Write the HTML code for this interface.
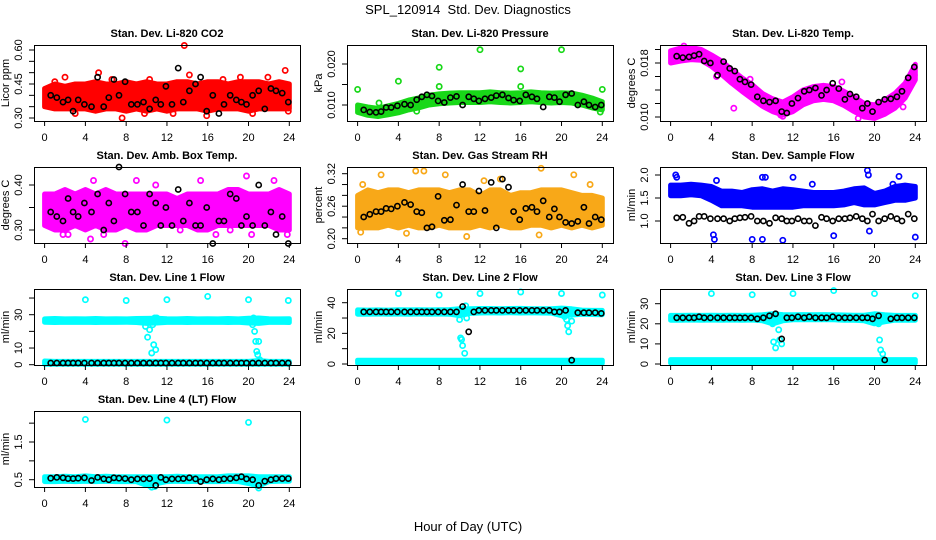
<!DOCTYPE html>
<html><head><meta charset="utf-8"><style>
html,body{margin:0;padding:0;background:#fff;}
svg{display:block;font-family:"Liberation Sans",sans-serif;}
</style></head><body>
<svg id="chart" width="936" height="540" viewBox="0 0 936 540" xmlns="http://www.w3.org/2000/svg">
<text x="468" y="14" text-anchor="middle" font-size="13">SPL_120914&#160; Std. Dev. Diagnostics</text>
<text x="468" y="531" text-anchor="middle" font-size="13">Hour of Day (UTC)</text>
</svg>
<script>
const bandHours=[0,1,2,3,4,5,6,7,8,9,10,11,12,13,14,15,16,17,18,19,20,21,22,23,24];
const blackHours=[0.6,1.2,1.8,2.3,2.8,3.3,3.9,4.6,5.2,5.8,6.3,6.8,7.3,7.9,8.5,9.1,9.7,10.3,10.9,11.4,11.9,12.5,13.1,13.6,14.2,14.8,15.3,15.9,16.5,17.1,17.6,18.2,18.8,19.3,19.8,20.4,21.0,21.6,22.2,22.7,23.3,23.9];

const co2Lo=[0.35,0.34,0.34,0.34,0.34,0.33,0.34,0.34,0.33,0.34,0.33,0.34,0.33,0.34,0.34,0.34,0.33,0.34,0.34,0.34,0.33,0.34,0.34,0.34,0.34];
const co2Hi=[0.43,0.45,0.44,0.45,0.45,0.46,0.45,0.45,0.46,0.45,0.46,0.45,0.45,0.46,0.46,0.45,0.46,0.46,0.45,0.46,0.46,0.46,0.45,0.46,0.45];
const co2OutX=[2.0,5.3,13.7,23.6,14.2,19.2,7.6,15.9,3.0,20.4,10.3,17.5,23.9,1.0,9.8,12.6,21.9,6.6];
const co2OutY=[0.48,0.50,0.62,0.51,0.49,0.48,0.30,0.31,0.32,0.32,0.47,0.47,0.33,0.46,0.32,0.32,0.48,0.47];
const co2Black=[0.40,0.39,0.37,0.38,0.33,0.38,0.36,0.35,0.48,0.35,0.39,0.47,0.40,0.46,0.36,0.36,0.37,0.34,0.38,0.36,0.44,0.36,0.52,0.37,0.42,0.45,0.48,0.33,0.40,0.32,0.36,0.40,0.38,0.37,0.36,0.40,0.42,0.34,0.43,0.42,0.41,0.37];

const presLo=[0.0082,0.0075,0.0072,0.0076,0.0081,0.0088,0.0093,0.0100,0.0103,0.0105,0.0106,0.0106,0.0106,0.0108,0.0106,0.0105,0.0106,0.0108,0.0106,0.0105,0.0106,0.0105,0.0100,0.0093,0.0088];
const presHi=[0.0100,0.0095,0.0092,0.0098,0.0104,0.0112,0.0117,0.0124,0.0127,0.0129,0.0130,0.0130,0.0130,0.0132,0.0130,0.0129,0.0130,0.0132,0.0130,0.0129,0.0130,0.0129,0.0124,0.0117,0.0108];
const presOutX=[0,4,8,8,12,16,16,20,24,2.1,5.8,23.8];
const presOutY=[0.0138,0.0158,0.0192,0.0145,0.0235,0.0188,0.0145,0.0235,0.0138,0.0105,0.0085,0.0083];
const presBlack=[0.0088,0.0083,0.0082,0.0084,0.0094,0.0094,0.0098,0.0102,0.0100,0.0113,0.0120,0.0125,0.0122,0.0110,0.0106,0.0118,0.0121,0.0100,0.0120,0.0115,0.0110,0.0115,0.0118,0.0123,0.0125,0.0117,0.0112,0.0110,0.0125,0.0120,0.0115,0.0095,0.0120,0.0118,0.0108,0.0125,0.0128,0.0100,0.0108,0.0100,0.0095,0.0100];

const tempLo=[0.0180,0.0183,0.0185,0.0184,0.0175,0.0163,0.0150,0.0138,0.0127,0.0116,0.0108,0.0103,0.0108,0.0118,0.0124,0.0126,0.0124,0.0117,0.0108,0.0100,0.0098,0.0104,0.0113,0.0128,0.0155];
const tempHi=[0.0198,0.0202,0.0203,0.0200,0.0192,0.0183,0.0170,0.0158,0.0148,0.0135,0.0127,0.0122,0.0130,0.0140,0.0145,0.0147,0.0145,0.0138,0.0130,0.0120,0.0118,0.0125,0.0135,0.0150,0.0178];
const tempOutX=[1.3,7.8,6.2,11.0,18.4,16.8,22.8,23.9,4.5,10.8];
const tempOutY=[0.0205,0.0156,0.0113,0.0101,0.0098,0.0152,0.0115,0.0162,0.0160,0.0103];
const tempBlack=[0.0190,0.0188,0.0189,0.0191,0.0193,0.0183,0.0180,0.0162,0.0182,0.0172,0.0168,0.0156,0.0152,0.0148,0.0130,0.0124,0.0122,0.0124,0.0108,0.0106,0.0120,0.0128,0.0138,0.0140,0.0143,0.0132,0.0140,0.0150,0.0142,0.0126,0.0134,0.0130,0.0113,0.0120,0.0108,0.0122,0.0126,0.0127,0.0130,0.0138,0.0158,0.0174];

const ambLo=[0.31,0.30,0.30,0.31,0.30,0.31,0.30,0.30,0.31,0.30,0.30,0.31,0.31,0.31,0.31,0.30,0.30,0.31,0.31,0.31,0.31,0.31,0.31,0.30,0.30];
const ambHi=[0.38,0.38,0.39,0.38,0.39,0.38,0.39,0.38,0.38,0.38,0.38,0.38,0.38,0.37,0.38,0.38,0.38,0.38,0.39,0.39,0.38,0.38,0.38,0.39,0.38];
const ambOutX=[4.5,7.9,4.8,9.0,15.3,19.8,22.5,23.8,1.8,5.8,13.3,10.9,16.8,18.2,2.3,20.3];
const ambOutY=[0.28,0.27,0.41,0.41,0.41,0.42,0.41,0.29,0.29,0.29,0.30,0.40,0.29,0.30,0.29,0.29];
const ambBlack=[0.34,0.33,0.32,0.37,0.34,0.33,0.36,0.34,0.38,0.30,0.36,0.32,0.44,0.38,0.34,0.34,0.31,0.38,0.36,0.31,0.35,0.31,0.39,0.32,0.36,0.31,0.31,0.35,0.27,0.32,0.32,0.38,0.37,0.31,0.33,0.31,0.40,0.31,0.34,0.29,0.33,0.27];

const rhLo=[0.22,0.22,0.22,0.225,0.22,0.225,0.22,0.22,0.225,0.22,0.22,0.22,0.225,0.22,0.225,0.22,0.22,0.225,0.225,0.22,0.225,0.22,0.225,0.22,0.225];
const rhHi=[0.28,0.29,0.285,0.29,0.29,0.285,0.29,0.29,0.29,0.285,0.29,0.29,0.28,0.29,0.29,0.28,0.285,0.285,0.29,0.29,0.29,0.285,0.28,0.28,0.275];
const rhOutX=[0.3,2.3,5.7,6.5,8.6,18.0,21.2,0.5,10.7,12.4,17.8,4.8,22.8,14.0];
const rhOutY=[0.212,0.318,0.325,0.325,0.318,0.330,0.318,0.30,0.204,0.307,0.207,0.21,0.30,0.31];
const rhBlack=[0.24,0.245,0.25,0.25,0.256,0.255,0.26,0.267,0.263,0.25,0.248,0.22,0.222,0.278,0.234,0.235,0.262,0.30,0.25,0.25,0.288,0.252,0.304,0.22,0.31,0.295,0.25,0.235,0.256,0.258,0.25,0.27,0.24,0.255,0.24,0.23,0.228,0.232,0.258,0.228,0.24,0.235];

const sfLo=[1.55,1.55,1.57,1.55,1.45,1.33,1.33,1.33,1.30,1.30,1.30,1.30,1.30,1.33,1.33,1.33,1.33,1.35,1.40,1.35,1.35,1.40,1.45,1.45,1.50];
const sfHi=[1.78,1.78,1.80,1.78,1.75,1.65,1.65,1.62,1.68,1.70,1.65,1.70,1.68,1.65,1.62,1.62,1.62,1.65,1.70,1.72,1.60,1.65,1.75,1.78,1.75];
const sfOutX=[4.2,4.3,8,9,11,16,19.5,24,0.5,0.6,19.3,19.4,9,9.3,12,22.4,13.9,4.5,21.8];
const sfOutY=[0.7,0.6,0.6,0.6,0.58,0.68,0.78,0.65,2.0,1.95,2.1,2.0,1.95,1.95,1.95,1.97,1.8,1.88,1.8];
const sfBlack=[1.07,1.08,0.95,1.0,1.1,1.1,1.05,1.05,1.05,1.0,1.05,1.07,1.08,1.1,1.0,1.0,0.95,1.07,1.05,1.0,1.0,1.05,1.0,1.0,0.9,1.08,1.05,1.0,1.05,1.05,1.07,1.1,1.05,1.0,1.15,1.0,1.05,1.1,1.05,1.0,1.15,1.05];

const l1UpLo=[25.5,25.3,25.5,25.4,25.5,25.3,25.5,25.4,25.5,25.3,24.8,25.0,25.4,25.5,25.3,25.5,25.4,25.5,25.3,25.5,25.0,24.8,25.4,25.5,25.3];
const l1UpHi=[27.5,27.7,27.5,27.6,27.5,27.7,27.5,27.6,27.5,27.7,27.8,27.9,27.6,27.5,27.7,27.5,27.6,27.5,27.7,27.5,27.9,28.0,27.6,27.5,27.6];
const l1LoLo=[0.3,0.3,0.3,0.3,0.3,0.3,0.3,0.3,0.3,0.3,0.3,0.3,0.3,0.3,0.3,0.3,0.3,0.3,0.3,0.3,0.3,0.3,0.3,0.3,0.3];
const l1LoHi=[2.2,2.0,2.0,2.0,2.0,2.0,2.0,2.0,2.0,2.0,2.0,2.0,2.0,2.0,2.0,2.0,2.0,2.0,2.0,2.0,2.0,2.5,2.0,2.0,2.0];
const l1OutX=[4,8,12,16,20,23.9,9.9,10.1,10.3,10.5,10.6,10.7,10.8,10.9,11.0,20.4,20.5,20.6,20.7,20.8,20.9,21.0,21.1];
const l1OutY=[39,38.5,39,41,39,38.5,23,16.5,21,7,24,12,28,9,28,24,28,20,14,8,6,14,3];
const l1Black=[1,1,1,1,1,1,1,1,1,1,1,1,1,1,1,1,1,1,1,1,1,1,1,1,1,1,1,1,1,1,1,1,1,1,1,1,1,1,1,1,1,1];

const l2UpLo=[32.5,32.5,32.6,32.5,32.6,32.5,32.6,32.5,32.6,32.5,31.5,33.0,33.3,33.5,33.3,33.5,33.3,33.4,33.3,33.2,31.5,32.0,32.5,32.3,32.2];
const l2UpHi=[35.3,35.2,35.3,35.2,35.4,35.3,35.4,35.3,35.4,35.5,36.0,36.0,36.2,36.2,36.1,36.2,36.3,36.1,36.0,36.0,36.5,36.0,35.2,35.0,35.0];
const l2LoLo=[0.5,0.5,0.5,0.5,0.5,0.5,0.5,0.5,0.5,0.5,0.5,0.5,0.5,0.5,0.5,0.5,0.5,0.5,0.5,0.5,0.5,0.5,0.5,0.5,0.5];
const l2LoHi=[2.5,2.5,2.5,2.5,2.5,2.5,2.5,2.5,2.5,2.5,2.5,2.5,2.5,2.5,2.5,2.5,2.5,2.5,2.5,2.5,2.5,2.5,2.5,2.5,2.5];
const l2OutX=[4,8,12,16,20,24,10.0,10.1,10.2,10.3,10.5,10.6,10.7,20.3,20.5,20.6,20.7,20.9,21.0];
const l2OutY=[46,45,46,47,46,45,29,17,16,12,7,38,30,31,29,25,21,35,28];
const l2Black=[34,34,34,34,34,34,34,34,34,34,34,34,34,34,34,34,34,37.5,21,34,35,35,35,35,35,35,35,35,35,35,35,35,35,34,34,35,2.5,33.5,33.5,33.5,33.5,33];

const l3UpLo=[21.8,21.8,21.9,21.8,21.9,21.8,21.9,21.8,21.9,21.5,20.0,21.5,22.0,22.0,22.0,22.0,22.0,21.8,21.8,21.5,20.0,21.0,21.8,21.8,21.8];
const l3UpHi=[24.2,24.2,24.3,24.2,24.3,24.2,24.3,24.2,24.3,24.5,25.0,24.6,24.5,24.6,24.5,24.6,24.5,24.4,24.3,24.3,25.0,24.5,24.2,24.2,24.2];
const l3LoLo=[0.5,0.5,0.5,0.5,0.5,0.5,0.5,0.5,0.5,0.5,0.5,0.5,0.5,0.5,0.5,0.5,0.5,0.5,0.5,0.5,0.5,0.5,0.5,0.5,0.5];
const l3LoHi=[2.2,2.2,2.2,2.2,2.2,2.2,2.2,2.2,2.2,2.2,2.2,2.2,2.2,2.2,2.2,2.2,2.2,2.2,2.2,2.2,2.2,2.2,2.2,2.2,2.2];
const l3OutX=[4,8,12,16,20,24,10.0,10.1,10.3,10.6,10.7,10.9,20.4,20.5,20.6,20.8];
const l3OutY=[35,34.5,35,36.5,35,34,20,11,8,17,12,10,20,12,7,5];
const l3Black=[23,23,23,23,23.5,23,23,23,23,23,23,23,23,23,22.5,23,24,25,12.5,23,23,23.5,23,23.5,23,23,23,23.5,23,23,23,23,23,23,22.5,24,2,22.5,23,23,23,23];

const l4Lo=[0.45,0.45,0.46,0.45,0.46,0.45,0.46,0.45,0.45,0.45,0.35,0.40,0.45,0.46,0.45,0.46,0.45,0.45,0.46,0.45,0.40,0.33,0.45,0.46,0.46];
const l4Hi=[0.58,0.58,0.59,0.58,0.60,0.58,0.59,0.58,0.58,0.58,0.58,0.58,0.58,0.59,0.58,0.58,0.58,0.58,0.60,0.60,0.60,0.58,0.58,0.58,0.58];
const l4OutX=[4,12,20,10.3,10.5,10.8,20.8,21.0];
const l4OutY=[2.1,2.08,2.02,0.35,0.30,0.32,0.35,0.28];
const l4Black=[0.54,0.56,0.55,0.53,0.53,0.54,0.55,0.48,0.56,0.52,0.50,0.55,0.54,0.53,0.50,0.52,0.52,0.53,0.35,0.56,0.50,0.52,0.52,0.53,0.55,0.52,0.45,0.50,0.52,0.50,0.52,0.53,0.55,0.58,0.52,0.50,0.35,0.46,0.50,0.53,0.53,0.53];

const colX=[34,347,660], rowY=[45,167,289,411], boxW=266, boxH=76;
const xTicks=[0,4,8,12,16,20,24];

const panels=[
 {name:'co2',title:'Stan. Dev. Li-820 CO2',ylab:'Licor ppm',c:0,r:0,v1:0.30,p1:73,v2:0.60,p2:5,ticks:[0.30,0.35,0.40,0.45,0.50,0.55,0.60],labels:['0.30','0.45','0.60'],labelVals:[0.30,0.45,0.60],color:'#ff0000',bands:[[co2Lo,co2Hi]],ox:co2OutX,oy:co2OutY,black:co2Black},
 {name:'pressure',title:'Stan. Dev. Li-820 Pressure',ylab:'kPa',c:1,r:0,v1:0.010,p1:60,v2:0.020,p2:19,ticks:[0.010,0.015,0.020],labels:['0.010','0.020'],labelVals:[0.010,0.020],color:'#18d818',bands:[[presLo,presHi]],ox:presOutX,oy:presOutY,black:presBlack},
 {name:'temp',title:'Stan. Dev. Li-820 Temp.',ylab:'degrees C',c:2,r:0,v1:0.010,p1:72,v2:0.018,p2:18,ticks:[0.010,0.012,0.014,0.016,0.018,0.020],labels:['0.010','0.018'],labelVals:[0.010,0.018],color:'#ff00ff',bands:[[tempLo,tempHi]],ox:tempOutX,oy:tempOutY,black:tempBlack},
 {name:'amb-temp',title:'Stan. Dev. Amb. Box Temp.',ylab:'degrees C',c:0,r:1,v1:0.30,p1:63,v2:0.40,p2:18,ticks:[0.30,0.35,0.40],labels:['0.30','0.40'],labelVals:[0.30,0.40],color:'#ff00ff',bands:[[ambLo,ambHi]],ox:ambOutX,oy:ambOutY,black:ambBlack},
 {name:'rh',title:'Stan. Dev. Gas Stream RH',ylab:'percent',c:1,r:1,v1:0.20,p1:71.7,v2:0.32,p2:6.7,ticks:[0.20,0.22,0.24,0.26,0.28,0.30,0.32],labels:['0.20','0.26','0.32'],labelVals:[0.20,0.26,0.32],color:'#f8a818',bands:[[rhLo,rhHi]],ox:rhOutX,oy:rhOutY,black:rhBlack},
 {name:'sample-flow',title:'Stan. Dev. Sample Flow',ylab:'ml/min',c:2,r:1,v1:1.0,p1:54,v2:2.0,p2:8,ticks:[1.0,1.5,2.0],labels:['1.0','1.5','2.0'],labelVals:[1.0,1.5,2.0],color:'#0000ff',bands:[[sfLo,sfHi]],ox:sfOutX,oy:sfOutY,black:sfBlack},
 {name:'line1',title:'Stan. Dev. Line 1 Flow',ylab:'ml/min',c:0,r:2,v1:0,p1:75.7,v2:30,p2:25.7,ticks:[0,10,20,30,40],labels:['0','10','30'],labelVals:[0,10,30],color:'#00ffff',bands:[[l1UpLo,l1UpHi],[l1LoLo,l1LoHi]],ox:l1OutX,oy:l1OutY,black:l1Black},
 {name:'line2',title:'Stan. Dev. Line 2 Flow',ylab:'ml/min',c:1,r:2,v1:0,p1:75,v2:40,p2:13.7,ticks:[0,10,20,30,40],labels:['0','20','40'],labelVals:[0,20,40],color:'#00ffff',bands:[[l2UpLo,l2UpHi],[l2LoLo,l2LoHi]],ox:l2OutX,oy:l2OutY,black:l2Black},
 {name:'line3',title:'Stan. Dev. Line 3 Flow',ylab:'ml/min',c:2,r:2,v1:0,p1:75,v2:30,p2:14.7,ticks:[0,10,20,30],labels:['0','10','20','30'],labelVals:[0,10,20,30],color:'#00ffff',bands:[[l3UpLo,l3UpHi],[l3LoLo,l3LoHi]],ox:l3OutX,oy:l3OutY,black:l3Black},
 {name:'line4',title:'Stan. Dev. Line 4 (LT) Flow',ylab:'ml/min',c:0,r:3,v1:0.5,p1:68.7,v2:1.5,p2:31,ticks:[0.5,1.0,1.5,2.0],labels:['0.5','1.5'],labelVals:[0.5,1.5],color:'#00ffff',bands:[[l4Lo,l4Hi]],ox:l4OutX,oy:l4OutY,black:l4Black}
];

const NS='http://www.w3.org/2000/svg';
const svg=document.getElementById('chart');
function mk(tag,attrs,parent){const e=document.createElementNS(NS,tag);for(const k in attrs)e.setAttribute(k,attrs[k]);(parent||svg).appendChild(e);return e;}

panels.forEach(p=>{
  const bx=colX[p.c], by=rowY[p.r];
  const xs=h=>bx+10.6+h/24*(boxW-21.3);
  const ys=v=>by+p.p1+(v-p.v1)/(p.v2-p.v1)*(p.p2-p.p1);
  const g=mk('g',{});
  
  
  p.bands.forEach((b,bi)=>{
    const pts=[];
    bandHours.forEach((h,i)=>pts.push(xs(h).toFixed(1)+','+ys(b[0][i]).toFixed(1)));
    for(let i=bandHours.length-1;i>=0;i--)pts.push(xs(bandHours[i]).toFixed(1)+','+ys(b[1][i]).toFixed(1));
    const poly=mk('polygon',{points:pts.join(' '),fill:p.color,stroke:p.color,'stroke-width':5,'stroke-linejoin':'round'},g);
    
    
  });
  p.ox.forEach((h,i)=>{
    const c=mk('circle',{cx:xs(h).toFixed(1),cy:ys(p.oy[i]).toFixed(1),r:2.6,fill:'none',stroke:p.color,'stroke-width':1.7},g);
    
    
  });
  p.black.forEach((v,i)=>{
    const c=mk('circle',{cx:xs(blackHours[i]).toFixed(1),cy:ys(v).toFixed(1),r:2.6,fill:'none',stroke:'#000','stroke-width':1.6},g);
    
    
  });
  const box=mk('rect',{x:bx+0.5,y:by+0.5,width:boxW,height:boxH,fill:'none',stroke:'#000','stroke-width':1},g);
  
  
  xTicks.forEach(t=>{
    const x=xs(t);
    mk('line',{x1:x,y1:by+boxH,x2:x,y2:by+boxH+5,stroke:'#000','stroke-width':1},g);
    const tx=mk('text',{x:x,y:by+boxH+20,'text-anchor':'middle','font-size':11},g);
    tx.textContent=t;
    
    
  });
  p.ticks.forEach(t=>{
    const y=ys(t);
    mk('line',{x1:bx,y1:y,x2:bx-5,y2:y,stroke:'#000','stroke-width':1},g);
  });
  p.labels.forEach((l,i)=>{
    const y=ys(p.labelVals[i]);
    const tx=mk('text',{x:bx-12,y:y,'text-anchor':'middle','font-size':11,transform:'rotate(-90 '+(bx-12)+' '+y+')'},g);
    tx.textContent=l;
    
    
  });
  const yl=mk('text',{x:bx-25,y:by+boxH/2,'text-anchor':'middle','font-size':11,transform:'rotate(-90 '+(bx-25)+' '+(by+boxH/2)+')'},g);
  yl.textContent=p.ylab;
  
  
  const tt=mk('text',{x:bx+boxW/2,y:by-8,'text-anchor':'middle','font-size':11,'font-weight':'bold'},g);
  tt.textContent=p.title;
  
  
});
</script>
</body></html>
